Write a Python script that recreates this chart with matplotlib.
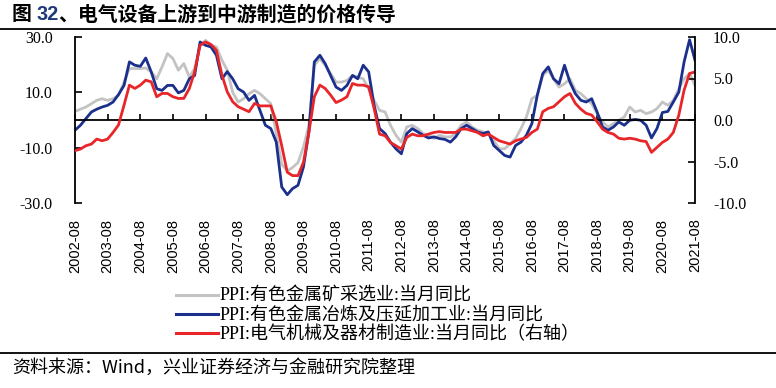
"""
电气设备上游到中游制造的价格传导 (PPI 同比)
"""

import matplotlib

matplotlib.use("Agg")
import matplotlib.pyplot as plt
import matplotlib.dates as mdates
import numpy as np
import pandas as pd
from matplotlib.lines import Line2D
from matplotlib.transforms import IdentityTransform

plt.rcParams["font.family"] = ["Liberation Serif", "Noto Sans CJK SC", "DejaVu Sans"]

# bimonthly readings, 2002-08 .. 2021-08
dates = pd.date_range("2002-08-01", "2021-08-01", freq="2MS")

# PPI:有色金属矿采选业:当月同比 (left axis)
mining = [
    3.1, 3.9, 4.7,
    5.9, 7.1, 7.7, 7.1, 7.7, 8.9,
    13.7, 18.6, 18.6, 18.6, 18.8, 17.4,
    14.9, 19.2, 24.0, 22.2, 18.0, 20.4,
    15.5, 18.6, 27.0, 28.8, 27.0, 26.4,
    21.6, 18.0, 10.0, 6.5, 7.7, 9.5,
    10.7, 9.5, 7.7, 5.9, -5.0, -16.0,
    -18.4, -17.2, -15.4, -9.8, -1.9, 19.8,
    22.2, 19.8, 16.8, 13.7, 13.7, 14.3,
    16.1, 15.5, 14.9, 11.3, 7.1, 3.5,
    2.9, -1.9, -5.5, -8.0, -2.5, -1.9,
    -3.1, -4.9, -5.5, -6.7, -5.5, -6.1,
    -6.1, -4.9, -1.9, -0.7, -2.5, -3.7,
    -4.3, -4.9, -7.4, -10.4, -10.4, -8.6,
    -6.7, -3.1, 1.1, 7.7, 8.9, 16.1,
    18.0, 14.9, 11.9, 13.1, 14.9, 10.7,
    9.5, 7.7, 5.9, 2.3, -0.7, -2.5,
    -1.3, -0.1, 1.1, 4.7, 2.9, 3.5,
    2.3, 2.9, 4.1, 6.5, 5.3, 7.1,
    11.3, 14.9, 16.8, 12.5,
]

# PPI:有色金属冶炼及压延加工业:当月同比 (left axis)
smelting = [
    -3.7, -1.9, 0.5,
    2.9, 3.9, 4.7, 5.3, 6.5, 9.2,
    12.5, 21.0, 19.8, 19.4, 22.4, 17.4,
    11.3, 10.7, 12.5, 12.5, 9.8, 10.7,
    14.9, 16.1, 28.2, 27.0, 26.4, 23.4,
    14.9, 17.5, 14.9, 11.3, 10.1, 7.1,
    8.9, 3.5, -1.9, -3.1, -8.0, -24.2,
    -27.0, -24.8, -23.6, -17.0, -4.3, 21.0,
    23.4, 20.4, 16.1, 11.9, 10.7, 12.5,
    16.1, 14.9, 19.8, 17.4, 5.3, -3.1,
    -4.9, -8.0, -10.4, -12.2, -4.9, -3.1,
    -4.3, -5.5, -6.5, -6.1, -6.7, -7.0,
    -8.0, -6.1, -3.1, -1.9, -3.1, -4.3,
    -4.9, -4.3, -9.2, -11.0, -12.8, -13.4,
    -9.2, -8.0, -5.5, -1.3, 9.0, 16.8,
    19.2, 14.9, 13.1, 19.8, 13.7, 9.5,
    7.1, 6.5, 7.7, 2.9, -2.5, -3.7,
    -2.5, -0.7, -1.9, -0.1, 0.2, -0.1,
    -1.9, -6.5, -3.1, 2.7, 3.1, 6.5,
    10.1, 21.0, 29.0, 21.6,
]

# PPI:电气机械及器材制造业:当月同比 (right axis)
electrical = [
    -3.7, -3.5, -3.1,
    -2.9, -2.3, -2.5, -2.3, -1.5, -0.6,
    1.8, 4.2, 3.8, 4.2, 4.8, 4.6,
    2.8, 3.2, 3.2, 2.8, 2.6, 2.6,
    3.8, 5.8, 9.0, 9.4, 9.1, 8.4,
    5.4, 3.4, 2.2, 1.6, 1.3, 1.0,
    2.0, 1.7, 1.7, 1.7, -0.2, -3.1,
    -6.3, -6.7, -6.7, -5.1, -1.5, 2.8,
    4.2, 3.8, 3.0, 2.1, 2.4, 2.8,
    4.4, 4.2, 4.2, 4.0, 1.4, -1.7,
    -1.9, -2.7, -3.1, -3.5, -2.1, -1.7,
    -1.9, -1.9, -1.7, -1.5, -1.4, -1.5,
    -1.5, -1.5, -1.1, -1.1, -1.3, -1.5,
    -1.9, -1.7, -2.1, -2.5, -2.7, -2.9,
    -2.5, -2.3, -2.1, -1.5, -1.1, 1.0,
    1.4, 1.6, 2.2, 2.8, 3.2, 2.0,
    1.3, 0.8, 0.6, -0.2, -1.1, -1.5,
    -1.7, -2.2, -2.3, -2.2, -2.3, -2.5,
    -2.6, -3.9, -3.3, -2.7, -2.3, -1.5,
    0.6, 3.6, 5.6, 5.8,
]

labels = [
    "PPI:有色金属矿采选业:当月同比",
    "PPI:有色金属冶炼及压延加工业:当月同比",
    "PPI:电气机械及器材制造业:当月同比（右轴）",
]
colours = ["#C3C3C3", "#1B2F8C", "#E8262A"]

tick_dates = pd.date_range("2002-08-01", "2021-08-01", freq="12MS")

fig = plt.figure(figsize=(7.76, 3.88), dpi=100)
ax = fig.add_axes([75 / 776, 1 - 203 / 388, 620 / 776, 166 / 388])
ax2 = ax.twinx()

ax.plot(dates, mining, color=colours[0], linewidth=2.0, label=labels[0])
ax.plot(dates, smelting, color=colours[1], linewidth=2.0, label=labels[1])
ax2.plot(dates, electrical, color=colours[2], linewidth=2.0, label=labels[2])

ax.set_xlim(dates[0], dates[-1])
ax.set_ylim(-30, 30)
ax2.set_ylim(-10, 10)
ax.set_yticks([-30, -10, 10, 30])
ax2.set_yticks([-10, -5, 0, 5, 10])
ax.yaxis.set_major_formatter(matplotlib.ticker.FormatStrFormatter("%.1f"))
ax2.yaxis.set_major_formatter(matplotlib.ticker.FormatStrFormatter("%.1f"))

# zero line doubles as the x axis, labels pushed to the bottom
ax.spines["bottom"].set_position(("data", 0))
ax.spines["top"].set_visible(False)
ax.spines["right"].set_visible(False)
for side in ["top", "bottom", "left"]:
    ax2.spines[side].set_visible(False)
for sp in [ax.spines["left"], ax.spines["bottom"], ax2.spines["right"]]:
    sp.set_linewidth(1.3)

ax.set_xticks(tick_dates)
ax.xaxis.set_major_formatter(mdates.DateFormatter("%Y-%m"))
ax.tick_params(axis="x", direction="in", length=4, width=1.2, pad=71,
               labelrotation=90, labelsize=10.5)
for t in ax.get_xticklabels():
    t.set_family(["Liberation Sans", "DejaVu Sans"])
ax.tick_params(axis="y", direction="in", length=5, width=1.2, pad=16,
               labelsize=11.5)
ax2.tick_params(axis="y", direction="in", length=5, width=1.2, pad=13,
                labelsize=11.5)

handles = [Line2D([], [], color=c, linewidth=2.2) for c in colours]
fig.legend(handles, labels, loc="upper left",
           bbox_to_anchor=(176 / 776, 1 - 288 / 388),
           frameon=False, fontsize=13, handlelength=2.3, handletextpad=0.1,
           labelspacing=0.1, borderpad=0, borderaxespad=0)

# title with coloured number, built from pieces
renderer = fig.canvas.get_renderer()
x = 12
for piece, colour, fam in [
    ("图 ", "black", ["Noto Sans CJK SC"]),
    ("32", "#1F3A7A", ["Liberation Sans", "Noto Sans CJK SC"]),
    ("、电气设备上游到中游制造的价格传导", "black", ["Noto Sans CJK SC"]),
]:
    t = fig.text(x, 388 - 14, piece, transform=IdentityTransform(),
                 fontsize=14.3, fontweight="bold", color=colour, family=fam,
                 va="center", ha="left")
    x = t.get_window_extent(renderer).x1

fig.add_artist(Line2D([0, 1], [1 - 28.5 / 388] * 2, transform=fig.transFigure,
                      color="black", linewidth=1.3))
fig.add_artist(Line2D([0, 1], [1 - 352.5 / 388] * 2, transform=fig.transFigure,
                      color="black", linewidth=1.3))

fig.text(12 / 776, 1 - 368 / 388, "资料来源：Wind，兴业证券经济与金融研究院整理",
         fontsize=13, family=["Noto Sans CJK SC"], va="center", ha="left")

fig.savefig("out.png", dpi=100)
